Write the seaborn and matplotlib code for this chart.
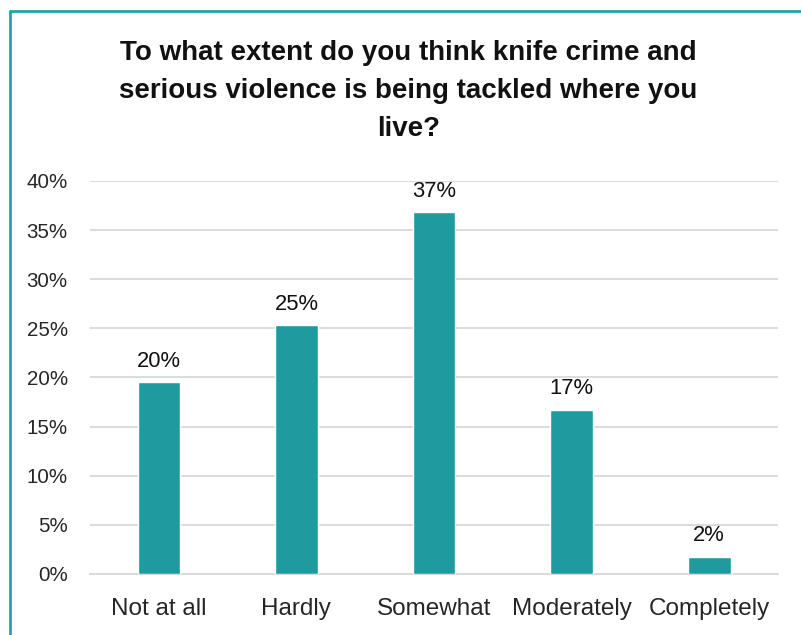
import numpy as np
import pandas as pd
import matplotlib
matplotlib.use('Agg')
from matplotlib import pyplot as plt
from matplotlib.lines import Line2D
from matplotlib.ticker import PercentFormatter
import seaborn as sns


CATEGORIES = ['Not at all', 'Hardly', 'Somewhat', 'Moderately', 'Completely']
SHARES = [0.195, 0.253, 0.368, 0.167, 0.017]
LABELS = ['20%', '25%', '37%', '17%', '2%']
TITLE = ('To what extent do you think knife crime and\n'
         'serious violence is being tackled where you\n'
         'live?')

TEAL = '#1f9ba0'
FONT = ['Liberation Sans', 'DejaVu Sans']


def build_frame():
    return pd.DataFrame({'answer': CATEGORIES, 'share': SHARES})


def plot(data):
    sns.set_style('white')
    plt.rcParams['font.family'] = FONT

    fig = plt.figure(figsize=(8.01, 6.35), dpi=100)
    ax = fig.add_axes([0.1124, 0.0961, 0.8589, 0.6189])

    sns.barplot(data=data, x='answer', y='share', color=TEAL,
                width=0.31, saturation=1, ax=ax, zorder=3)

    ax.set_ylim(0, 0.4)
    ax.set_yticks(np.arange(0, 0.41, 0.05))
    ax.yaxis.set_major_formatter(PercentFormatter(1.0, decimals=0))
    ax.grid(axis='y', color='#d9d9d9', linewidth=1.3, zorder=0)
    ax.set_xlim(-0.5, len(CATEGORIES) - 0.5)
    for side in ['top', 'right', 'left']:
        ax.spines[side].set_visible(False)
    ax.spines['bottom'].set_color('#d9d9d9')
    ax.spines['bottom'].set_linewidth(1.3)
    ax.tick_params(axis='y', length=0, pad=16, labelsize=14.8)
    ax.tick_params(axis='x', length=0, pad=17, labelsize=17.5)
    ax.set_xlabel('')
    ax.set_ylabel('')

    for i, (value, label) in enumerate(zip(SHARES, LABELS)):
        ax.text(i, value + 0.011, label, ha='center', va='bottom',
                fontsize=15.8, color='#111111')

    fig.text(0.51, 0.937, TITLE, ha='center', va='top', fontsize=20,
             fontweight='bold', linespacing=1.6, color='#111111')

    # chart frame (only top and left edges fall inside the picture)
    x0 = 9.5 / 801
    y0 = 1 - 10.5 / 635
    fig.add_artist(Line2D([x0, 1], [y0, y0], transform=fig.transFigure,
                          color='#25a2aa', linewidth=2))
    fig.add_artist(Line2D([x0, x0], [0, y0], transform=fig.transFigure,
                          color='#25a2aa', linewidth=2))

    fig.savefig('out.png', dpi=100)


if __name__ == '__main__':
    plot(build_frame())
